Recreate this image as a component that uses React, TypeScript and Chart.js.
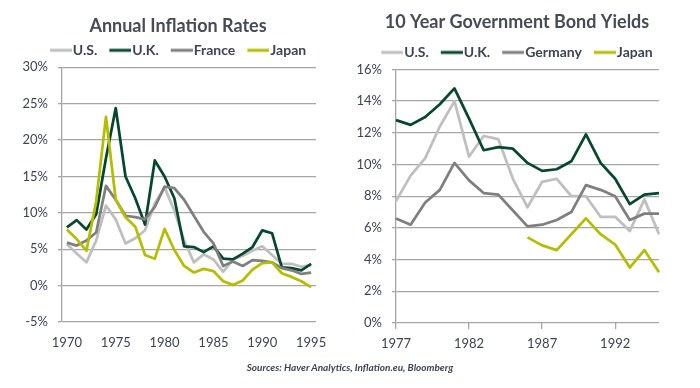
import React, { useEffect, useRef } from 'react';
import { Chart, registerables } from 'chart.js';

Chart.register(...registerables);

// ---------- Data ----------
const inflationYears = [
  '1970', '1971', '1972', '1973', '1974', '1975', '1976', '1977', '1978', '1979',
  '1980', '1981', '1982', '1983', '1984', '1985', '1986', '1987', '1988', '1989',
  '1990', '1991', '1992', '1993', '1994', '1995',
];
const usInflation = [5.7, 4.4, 3.2, 6.2, 11.0, 9.1, 5.8, 6.5, 7.6, 11.3, 13.5, 10.3, 6.2, 3.2, 4.3, 3.6, 1.9, 3.6, 4.1, 4.8, 5.4, 4.2, 3.0, 3.0, 2.6, 2.8];
const ukInflation = [8.0, 9.0, 7.7, 9.8, 17.5, 24.4, 15.0, 12.0, 8.4, 17.2, 15.0, 12.0, 5.4, 5.3, 4.6, 5.4, 3.7, 3.6, 4.4, 5.3, 7.6, 7.2, 2.5, 2.4, 2.1, 3.0];
const franceInflation = [5.9, 5.5, 6.2, 7.3, 13.7, 11.8, 9.6, 9.4, 9.1, 10.8, 13.6, 13.4, 11.8, 9.6, 7.4, 5.8, 2.7, 3.3, 2.7, 3.5, 3.4, 3.2, 2.4, 2.1, 1.6, 1.8];
const japanInflation = [7.7, 6.4, 4.8, 11.6, 23.2, 11.8, 9.4, 8.1, 4.2, 3.7, 7.8, 4.9, 2.7, 1.8, 2.3, 2.0, 0.6, 0.1, 0.7, 2.2, 3.1, 3.2, 1.7, 1.2, 0.6, -0.2];

const bondYears = [
  '1977', '1978', '1979', '1980', '1981', '1982', '1983', '1984', '1985', '1986',
  '1987', '1988', '1989', '1990', '1991', '1992', '1993', '1994', '1995',
];
const usYield = [7.7, 9.3, 10.4, 12.4, 14.0, 10.5, 11.8, 11.6, 9.1, 7.3, 8.9, 9.1, 8.0, 8.0, 6.7, 6.7, 5.8, 7.8, 5.6];
const ukYield = [12.8, 12.5, 13.0, 13.8, 14.8, 12.9, 10.9, 11.1, 11.0, 10.1, 9.6, 9.7, 10.2, 11.9, 10.1, 9.1, 7.5, 8.1, 8.2];
const germanyYield = [6.6, 6.2, 7.6, 8.4, 10.1, 9.0, 8.2, 8.1, 7.1, 6.1, 6.2, 6.5, 7.0, 8.7, 8.4, 8.0, 6.5, 6.9, 6.9];
const japanYield = [null, null, null, null, null, null, null, null, null, 5.4, 4.9, 4.6, 5.6, 6.6, 5.6, 4.95, 3.5, 4.6, 3.2];

const leftTitle = 'Annual Inflation Rates';
const rightTitle = '10 Year Government Bond Yields';
const sourceNote = 'Sources: Haver Analytics, Inflation.eu, Bloomberg';

// ---------- Styles ----------
const FONT = 'Lato, "Open Sans", sans-serif';
const TEXT = '#3d4452';
const TITLE = '#474b55';
const GRID = '#a6a6a6';
const C_US = '#bfbfbf';
const C_UK = '#07472f';
const C_MID = '#7f7f7f';
const C_JP = '#b5bd00';

type Series = { label: string; data: (number | null)[]; color: string };

interface PanelCfg {
  title: string;
  labels: string[];
  series: Series[];
  yMin: number;
  yMax: number;
  yStep: number;
  offset: boolean;
  xTicks: boolean;
  canvasLeft: number;
  canvasWidth: number;
  yAxisW: number;
  rightGap: number;
  chartTop: number;
  titlePadTop: number;
  titlePadBottom: number;
  padBottom: number;
  xAxisH: number;
  xLabelPad: number;
}

function legendImage(color: string): HTMLCanvasElement {
  const c = document.createElement('canvas');
  c.width = 28;
  c.height = 6;
  const ctx = c.getContext('2d')!;
  ctx.strokeStyle = color;
  ctx.lineWidth = 3;
  ctx.beginPath();
  ctx.moveTo(6, 3);
  ctx.lineTo(28, 3);
  ctx.stroke();
  return c;
}

function Panel({ cfg }: { cfg: PanelCfg }) {
  const ref = useRef<HTMLCanvasElement>(null);
  useEffect(() => {
    const imgs = cfg.series.map((s) => legendImage(s.color));
    const n = cfg.series.length;
    const chart = new Chart(ref.current!, {
      type: 'line',
      data: {
        labels: cfg.labels,
        datasets: cfg.series.map((s, i) => ({
          label: s.label,
          data: s.data,
          borderColor: s.color,
          backgroundColor: s.color,
          borderWidth: 2.75,
          pointRadius: 0,
          pointHoverRadius: 0,
          tension: 0,
          spanGaps: false,
          borderJoinStyle: 'round' as const,
          order: n - i,
        })),
      },
      options: {
        responsive: false,
        animation: false,
        layout: { padding: { left: 0, right: 0, top: 0, bottom: cfg.padBottom } },
        plugins: {
          tooltip: { enabled: false },
          title: {
            display: true,
            text: cfg.title,
            color: TITLE,
            font: { family: FONT, size: 18, weight: 'bold', lineHeight: 1.2 },
            padding: { top: cfg.titlePadTop, bottom: cfg.titlePadBottom },
          },
          legend: {
            display: true,
            position: 'top',
            labels: {
              usePointStyle: true,
              pointStyleWidth: 16,
              padding: 12,
              color: TEXT,
              font: { family: FONT, size: 14, weight: 'bold' },
              generateLabels: (ch: any) => {
                const items = (Chart.defaults.plugins.legend.labels as any).generateLabels(ch);
                items.sort((a: any, b: any) => a.datasetIndex - b.datasetIndex);
                items.forEach((it: any) => {
                  it.pointStyle = imgs[it.datasetIndex];
                });
                return items;
              },
            },
          },
        },
        scales: {
          x: {
            type: 'category',
            offset: cfg.offset,
            grid: {
              display: cfg.xTicks,
              drawOnChartArea: false,
              drawTicks: cfg.xTicks,
              tickLength: 6,
              color: GRID,
              lineWidth: 1.3,
            },
            border: { display: false },
            ticks: {
              autoSkip: false,
              maxRotation: 0,
              padding: cfg.xLabelPad,
              color: TEXT,
              font: { family: FONT, size: 13 },
              callback: (_v: any, i: number) => (i % 5 === 0 ? cfg.labels[i] : null),
            },
            afterFit: (s: any) => {
              s.height = cfg.xAxisH;
              s.paddingRight = cfg.rightGap;
            },
          },
          y: {
            min: cfg.yMin,
            max: cfg.yMax,
            grid: {
              color: GRID,
              lineWidth: 1.3,
              drawTicks: true,
              tickLength: 4,
            },
            border: { display: true, color: GRID, width: 1.3 },
            ticks: {
              stepSize: cfg.yStep,
              padding: 10,
              color: TEXT,
              font: { family: FONT, size: 13 },
              callback: (v: any) => `${v}%`,
            },
            afterFit: (s: any) => {
              s.width = cfg.yAxisW;
              s.paddingTop = cfg.chartTop;
            },
          },
        },
      },
    } as any);
    return () => chart.destroy();
  }, []);
  return (
    <canvas
      ref={ref}
      width={cfg.canvasWidth}
      height={388}
      style={{ position: 'absolute', left: cfg.canvasLeft, top: 0, width: cfg.canvasWidth, height: 388 }}
    />
  );
}

const leftCfg: PanelCfg = {
  title: leftTitle,
  labels: inflationYears,
  series: [
    { label: 'U.S.', data: usInflation, color: C_US },
    { label: 'U.K.', data: ukInflation, color: C_UK },
    { label: 'France', data: franceInflation, color: C_MID },
    { label: 'Japan', data: japanInflation, color: C_JP },
  ],
  yMin: -5,
  yMax: 30,
  yStep: 5,
  offset: true,
  xTicks: false,
  canvasLeft: 0,
  canvasWidth: 356,
  yAxisW: 62,
  rightGap: 40,
  chartTop: 67.3,
  titlePadTop: 10,
  titlePadBottom: -5.5,
  padBottom: 36,
  xAxisH: 30,
  xLabelPad: 13,
};

const rightCfg: PanelCfg = {
  title: rightTitle,
  labels: bondYears,
  series: [
    { label: 'U.S.', data: usYield, color: C_US },
    { label: 'U.K.', data: ukYield, color: C_UK },
    { label: 'Germany', data: germanyYield, color: C_MID },
    { label: 'Japan', data: japanYield, color: C_JP },
  ],
  yMin: 0,
  yMax: 16,
  yStep: 2,
  offset: false,
  xTicks: true,
  canvasLeft: 352,
  canvasWidth: 330,
  yAxisW: 44,
  rightGap: 23,
  chartTop: 69.4,
  titlePadTop: 6.5,
  titlePadBottom: 0,
  padBottom: 35,
  xAxisH: 30,
  xLabelPad: 7,
};

export default function App() {
  return (
    <div
      style={{
        position: 'fixed',
        left: 0,
        top: 0,
        width: 700,
        height: 388,
        background: '#ffffff',
        overflow: 'hidden',
      }}
    >
      <Panel cfg={leftCfg} />
      <Panel cfg={rightCfg} />
      <div
        style={{
          position: 'absolute',
          left: 0,
          top: 361,
          width: 700,
          textAlign: 'center',
          fontFamily: FONT,
          fontStyle: 'italic',
          fontWeight: 700,
          fontSize: 10,
          color: TEXT,
        }}
      >
        {sourceNote}
      </div>
    </div>
  );
}
